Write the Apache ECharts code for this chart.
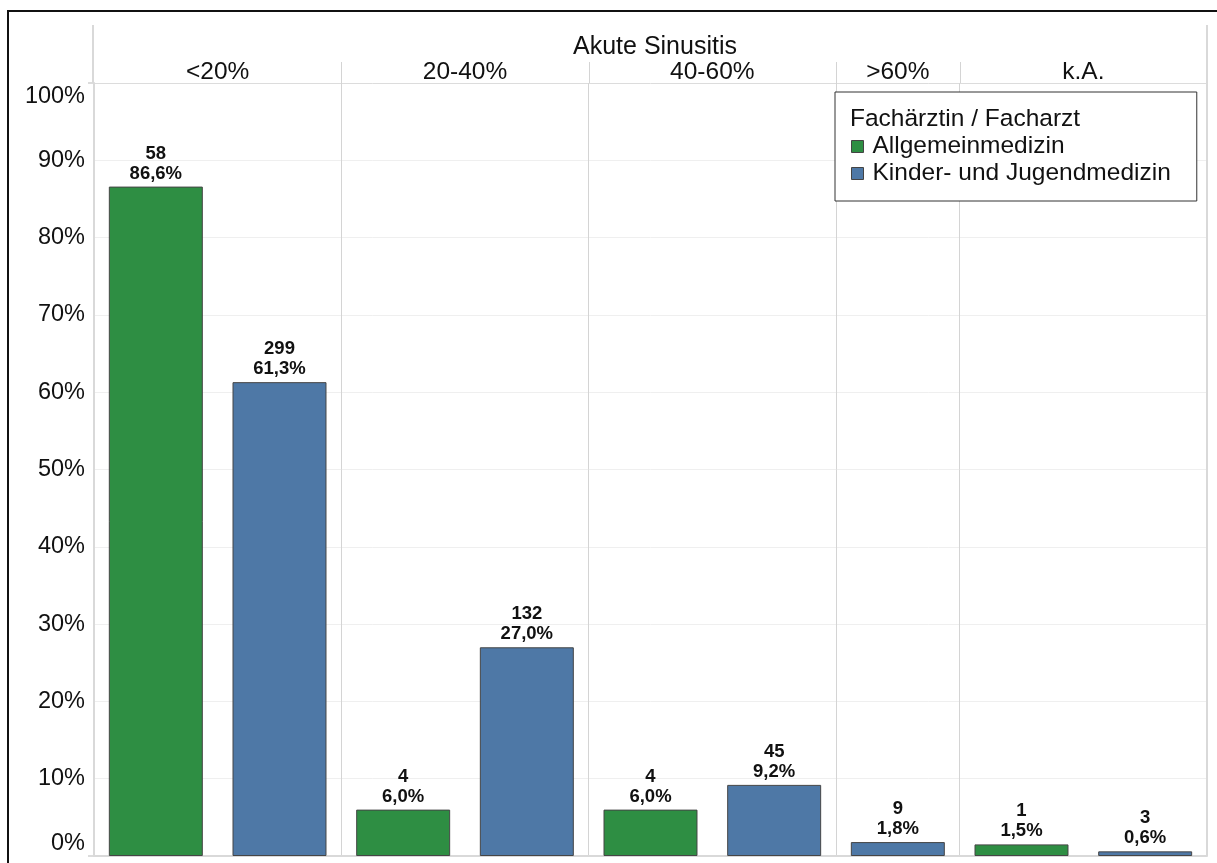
<!DOCTYPE html>
<html>
<head>
<meta charset="utf-8">
<script src="https://cdn.jsdelivr.net/npm/echarts@6/dist/echarts.min.js"></script>
<style>
  html, body { margin: 0; padding: 0; background: #fff; }
  #chart { width: 1217px; height: 863px; }
</style>
</head>
<body>
<div id="chart"></div>
<script>
// Akute Sinusitis – share of prescriptions by age band and specialty
const chartTitle = 'Akute Sinusitis';
const groups = ['<20%', '20-40%', '40-60%', '>60%', 'k.A.'];
const seriesNames = ['Allgemeinmedizin', 'Kinder- und Jugendmedizin'];
const allgemeinCounts = [58, 4, 4, null, 1];
const allgemeinPct = [86.6, 6.0, 6.0, null, 1.5];
const kinderCounts = [299, 132, 45, 9, 3];
const kinderPct = [61.3, 27.0, 9.2, 1.8, 0.6];
const yTicks = [0, 10, 20, 30, 40, 50, 60, 70, 80, 90, 100];
const legendTitle = 'Fachärztin / Facharzt';

const colors = ['#2e8e43', '#4e78a6'];
const FONT = '"Liberation Sans", Arial, sans-serif';

// One slot per (group, specialty) that has a value; groups end where a new one starts
const slots = [];
const groupSpans = [];
groups.forEach((g, gi) => {
  const start = slots.length;
  [[allgemeinCounts, allgemeinPct], [kinderCounts, kinderPct]].forEach(([cnt, pct], si) => {
    if (pct[gi] != null) slots.push({ group: g, series: si, count: cnt[gi], pct: pct[gi] });
  });
  groupSpans.push({ label: g, start: start, end: slots.length });
});
const boundaryIdx = new Set(groupSpans.slice(1).map(s => s.start));

function seriesData(si) {
  return slots.map(s => s.series === si ? { value: s.pct, count: s.count } : '-');
}

const fmtPct = v => v.toFixed(1).replace('.', ',') + '%';

const chart = echarts.init(document.getElementById('chart'), null, { renderer: 'canvas' });

const option = {
  animation: false,
  backgroundColor: '#fff',
  textStyle: { fontFamily: FONT },
  title: [
    { text: chartTitle, left: 650, top: 30, textAlign: 'center',
      textStyle: { fontFamily: FONT, fontSize: 25, fontWeight: 'normal', color: '#111' } },
    { text: legendTitle, left: 845, top: 102,
      textStyle: { fontFamily: FONT, fontSize: 24.5, fontWeight: 'normal', color: '#111' } }
  ],
  legend: {
    data: seriesNames,
    orient: 'vertical',
    left: 835, top: 92,
    padding: [42, 26, 15, 16],
    itemGap: 2,
    itemWidth: 12, itemHeight: 12,
    icon: 'rect',
    borderColor: '#333', borderWidth: 1,
    backgroundColor: '#fff',
    selectedMode: false,
    textStyle: { fontFamily: FONT, fontSize: 24.5, color: '#111', padding: [0, 0, 0, 4] },
    itemStyle: { borderColor: '#444', borderWidth: 1 }
  },
  grid: { left: 94, right: 10, top: 83, bottom: 7, containLabel: false },
  xAxis: {
    type: 'category',
    data: slots.map(s => s.group + '|' + seriesNames[s.series]),
    axisLine: { show: true, lineStyle: { color: '#d9d9d9', width: 2 } },
    axisTick: { show: false },
    axisLabel: { show: false },
    splitLine: {
      show: true,
      interval: (i) => boundaryIdx.has(i),
      lineStyle: { color: '#d4d4d4', width: 1 }
    }
  },
  yAxis: {
    type: 'value',
    min: yTicks[0], max: yTicks[yTicks.length - 1], interval: 10,
    axisLine: { show: true, lineStyle: { color: '#d9d9d9', width: 2 } },
    axisTick: { show: false },
    axisLabel: {
      formatter: v => v + '%',
      fontFamily: FONT, fontSize: 23.5, color: '#111', margin: 9,
      verticalAlignMinLabel: 'bottom',
      verticalAlignMaxLabel: 'top',
      padding: [2, 0, 0, 0]
    },
    splitLine: {
      show: true,
      lineStyle: {
        color: yTicks.map((t, i) => (i === 0 || i === yTicks.length - 1) ? '#dcdcdc' : '#efefef'),
        width: 1
      }
    }
  },
  series: seriesNames.map((name, si) => ({
    name: name,
    type: 'bar',
    data: seriesData(si),
    barWidth: '76%',
    barGap: '-100%',
    itemStyle: { color: colors[si], borderColor: '#454545', borderWidth: 1 },
    label: {
      show: true,
      position: 'top',
      distance: 3,
      lineHeight: 20,
      fontFamily: FONT, fontSize: 18.5, fontWeight: 'bold', color: '#111',
      formatter: p => p.data.count + '\n' + fmtPct(p.data.value)
    }
  }))
};

chart.setOption(option);

// Header row: group labels and column dividers placed through the axis scale
function drawHeader() {
  const px = i => chart.convertToPixel({ xAxisIndex: 0 }, i);
  const yTop = chart.convertToPixel({ yAxisIndex: 0 }, yTicks[yTicks.length - 1]);
  const yBottom = chart.convertToPixel({ yAxisIndex: 0 }, yTicks[0]);
  const step = px(1) - px(0);
  const edge = i => px(i) - step / 2;        // left boundary of slot i
  const left = edge(0), right = edge(slots.length);
  const headerTop = 62, titleTop = 25;
  const g = [];

  // outer frame
  g.push({ type: 'rect', shape: { x: 8, y: 11, width: 1400, height: 1000 },
    style: { fill: null, stroke: '#111', lineWidth: 2 }, silent: true, z: 100 });
  // top and bottom rules extending left of the plot
  g.push({ type: 'line', shape: { x1: left - 6, y1: yTop, x2: left, y2: yTop },
    style: { stroke: '#dcdcdc', lineWidth: 2 }, silent: true });
  g.push({ type: 'line', shape: { x1: left - 6, y1: yBottom, x2: left, y2: yBottom },
    style: { stroke: '#dcdcdc', lineWidth: 2 }, silent: true });
  // outer verticals reaching up to the title band
  g.push({ type: 'line', shape: { x1: left - 1, y1: titleTop, x2: left - 1, y2: yTop },
    style: { stroke: '#d9d9d9', lineWidth: 2 }, silent: true });
  g.push({ type: 'line', shape: { x1: right, y1: titleTop, x2: right, y2: yBottom },
    style: { stroke: '#d9d9d9', lineWidth: 2 }, silent: true });

  groupSpans.forEach((s, k) => {
    const x0 = edge(s.start), x1 = edge(s.end);
    if (k > 0) {
      g.push({ type: 'line', shape: { x1: Math.round(x0) + 0.5, y1: headerTop, x2: Math.round(x0) + 0.5, y2: yTop },
        style: { stroke: '#d4d4d4', lineWidth: 1 }, silent: true });
    }
    g.push({ type: 'text', x: (x0 + x1) / 2, y: 72, silent: true,
      style: { text: s.label, fontFamily: FONT, fontSize: 24.5, fill: '#111',
        align: 'center', verticalAlign: 'middle' } });
  });

  chart.setOption({ graphic: { elements: g } });
}
drawHeader();
</script>
</body>
</html>
